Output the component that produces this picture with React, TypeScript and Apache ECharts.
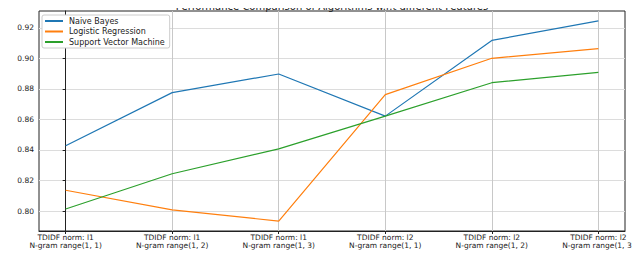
import React, { useEffect, useRef } from "react";
import * as echarts from "echarts";

const categories = [
  "TDIDF norm: l1\nN-gram range(1, 1)",
  "TDIDF norm: l1\nN-gram range(1, 2)",
  "TDIDF norm: l1\nN-gram range(1, 3)",
  "TDIDF norm: l2\nN-gram range(1, 1)",
  "TDIDF norm: l2\nN-gram range(1, 2)",
  "TDIDF norm: l2\nN-gram range(1, 3)",
];
const naiveBayes = [0.8428, 0.8776, 0.8898, 0.8622, 0.9118, 0.9246];
const logisticRegression = [0.8136, 0.8007, 0.7934, 0.8763, 0.9001, 0.9064];
const svm = [0.8013, 0.8244, 0.8407, 0.8622, 0.8841, 0.8909];
const yTicks = [0.8, 0.82, 0.84, 0.86, 0.88, 0.9, 0.92];
const seriesNames = ["Naive Bayes", "Logistic Regression", "Support Vector Machine"];
const colors = ["#1f77b4", "#ff7f0e", "#2ca02c"];
const titleText = "Performance Comparison of Algorithms w.r.t different Features";
const xAxisTitle = "Features";

const FONT = "DejaVu Sans";

export default function App() {
  const ref = useRef<HTMLDivElement>(null);
  useEffect(() => {
    if (!ref.current) return;
    const chart = echarts.init(ref.current, null, { renderer: "svg" });
    const xIdx = categories.map((_, i) => i);
    const mk = (arr: number[]) => arr.map((v, i) => [i, v]);
    const all = [naiveBayes, logisticRegression, svm];
    chart.setOption({
      animation: false,
      textStyle: { fontFamily: FONT },
      graphic: [
        {
          type: "text",
          x: 332,
          y: 1,
          z: 10,
          style: {
            text: titleText,
            fontSize: 10,
            fontFamily: FONT,
            align: "center",
            verticalAlign: "top",
            fill: "#222",
          },
        },
        {
          type: "text",
          x: 332,
          y: 254,
          z: 10,
          style: {
            text: xAxisTitle,
            fontSize: 7.5,
            fontFamily: FONT,
            align: "center",
            verticalAlign: "middle",
            fill: "#222",
          },
        },
      ],
      legend: {
        data: seriesNames,
        orient: "vertical",
        left: 42,
        top: 15,
        padding: [2, 5, 2, 3],
        itemGap: 2.5,
        itemWidth: 18,
        itemHeight: 2,
        icon: "rect",
        borderColor: "#cccccc",
        borderWidth: 1,
        borderRadius: 2,
        backgroundColor: "#ffffff",
        textStyle: { fontFamily: FONT, fontSize: 8, color: "#222", padding: [0, 0, 0, 1] },
      },
      grid: {
        left: 39,
        right: 15,
        top: 11,
        bottom: 28,
        outerBoundsMode: "none",
        containLabel: false,
        show: true,
        borderColor: "#222",
        borderWidth: 1,
        backgroundColor: "transparent",
      },
      xAxis: {
        type: "value",
        min: -0.25,
        max: 5.25,
        axisLine: { show: true, lineStyle: { color: "#222", width: 1 } },
        axisTick: { show: true, length: 3, customValues: xIdx, lineStyle: { color: "#222" } },
        axisLabel: {
          customValues: xIdx,
          formatter: (v: number) => categories[Math.round(v)] ?? "",
          fontFamily: FONT,
          fontSize: 7.5,
          color: "#222",
          lineHeight: 8.5,
          margin: 2,
          hideOverlap: false,
        },
        splitLine: { show: true, lineStyle: { color: "#c8c8c8", width: 1 } },
      },
      yAxis: {
        type: "value",
        min: 0.7869,
        max: 0.9311,
        name: "Validation Accuracy",
        nameLocation: "middle",
        nameGap: 30,
        nameTextStyle: { fontFamily: FONT, fontSize: 7, color: "#222" },
        axisLine: { show: true, lineStyle: { color: "#222", width: 1 } },
        axisTick: { show: true, length: 3, customValues: yTicks, lineStyle: { color: "#222" } },
        axisLabel: {
          customValues: yTicks,
          formatter: (v: number) => v.toFixed(2),
          fontFamily: FONT,
          fontSize: 7.5,
          color: "#222",
          margin: 5,
        },
        splitLine: { show: true, lineStyle: { color: "#dcdcdc", width: 1 } },
      },
      series: all.map((arr, k) => ({
        name: seriesNames[k],
        type: "line",
        data: mk(arr),
        showSymbol: false,
        symbol: "none",
        lineStyle: { color: colors[k], width: 1.2 },
        itemStyle: { color: colors[k] },
        z: 3 + k,
      })),
    });
    return () => chart.dispose();
  }, []);
  return <div ref={ref} style={{ width: 640, height: 259, margin: -8 }} />;
}
